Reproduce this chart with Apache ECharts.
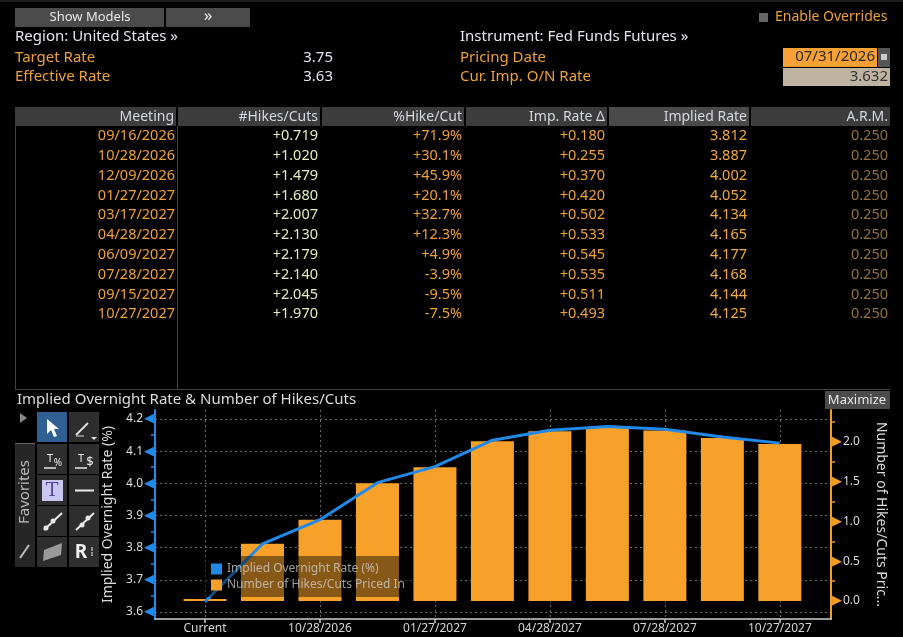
<!DOCTYPE html>
<html>
<head>
<meta charset="utf-8">
<title>WIRP - Implied Overnight Rate & Number of Hikes/Cuts</title>
<script src="https://cdn.jsdelivr.net/npm/echarts@6.0.0/dist/echarts.min.js"></script>
<style>
    html, body { margin: 0; padding: 0; background: #000; }
    #main { width: 903px; height: 637px; }
</style>
</head>
<body>
<div id="main"></div>
<script>
// header values
var targetRate = 3.75
var effectiveRate = 3.63
var pricingDate = '07/31/2026'
var curImpRate = 3.632

// meeting table
var meetings = ['09/16/2026', '10/28/2026', '12/09/2026', '01/27/2027', '03/17/2027',
    '04/28/2027', '06/09/2027', '07/28/2027', '09/15/2027', '10/27/2027']
var hikesCuts = [0.719, 1.020, 1.479, 1.680, 2.007, 2.130, 2.179, 2.140, 2.045, 1.970]
var pctHikeCut = [71.9, 30.1, 45.9, 20.1, 32.7, 12.3, 4.9, -3.9, -9.5, -7.5]
var impRateDelta = [0.180, 0.255, 0.370, 0.420, 0.502, 0.533, 0.545, 0.535, 0.511, 0.493]
var impliedRate = [3.812, 3.887, 4.002, 4.052, 4.134, 4.165, 4.177, 4.168, 4.144, 4.125]
var arm = [0.250, 0.250, 0.250, 0.250, 0.250, 0.250, 0.250, 0.250, 0.250, 0.250]

// chart
var categories = ['Current'].concat(meetings)
var rateSeries = [curImpRate].concat(impliedRate)
var hikesSeries = [0].concat(hikesCuts)
var xTicks = [0, 2, 4, 6, 8, 10]
var leftTicks = [3.6, 3.7, 3.8, 3.9, 4.0, 4.1, 4.2]
var leftMinor = [3.65, 3.75, 3.85, 3.95, 4.05, 4.15]
var rightTicks = [0, 0.5, 1.0, 1.5, 2.0]
var rightMinor = [0.25, 0.75, 1.25, 1.75, 2.25]

var FONT = '"Noto Sans", sans-serif'
var ORANGE = '#f0a232'
var WHITE = '#e2e6ee'
var BLUE = '#2189e8'
var BAR = '#f7a12b'

function txt(x, y, s, color, align, size, extra) {
    var el = {
        type: 'text', x: x, y: y, silent: true,
        style: {
            text: s, fill: color, align: align || 'left', verticalAlign: 'middle',
            font: (size || 14) + 'px ' + FONT
        }
    }
    if (extra) { for (var k in extra) el[k] = extra[k] }
    return el
}

function box(x, y, w, h, fill) {
    return { type: 'rect', silent: true, shape: { x: x, y: y, width: w, height: h }, style: { fill: fill } }
}

function line(x1, y1, x2, y2, color, w) {
    return { type: 'line', silent: true, shape: { x1: x1, y1: y1, x2: x2, y2: y2 }, style: { stroke: color, lineWidth: w || 1 } }
}

function signed(v, d) {
    return (v >= 0 ? '+' : '') + v.toFixed(d)
}

var g = []

// top controls
g.push(box(0, 0, 903, 2, '#1c1c1c'))
g.push(box(15, 8, 149, 19, '#4b4b4b'))
g.push(txt(90, 17, 'Show Models', '#e8e8e8', 'center', 13))
g.push(box(166, 8, 84, 19, '#4b4b4b'))
g.push(txt(208, 16, '»', '#e8e8e8', 'center', 17))
g.push(box(759, 13, 9, 9, '#666'))
g.push(txt(775, 17, 'Enable Overrides', ORANGE, 'left', 14))

g.push(txt(15, 37, 'Region: United States »', WHITE, 'left', 15))
g.push(txt(15, 58, 'Target Rate', ORANGE, 'left', 15))
g.push(txt(333, 58, targetRate.toFixed(2), WHITE, 'right', 15))
g.push(txt(15, 77, 'Effective Rate', ORANGE, 'left', 15))
g.push(txt(333, 77, effectiveRate.toFixed(2), WHITE, 'right', 15))

g.push(txt(460, 37, 'Instrument: Fed Funds Futures »', WHITE, 'left', 15))
g.push(txt(460, 58, 'Pricing Date', ORANGE, 'left', 15))
g.push(txt(460, 77, 'Cur. Imp. O/N Rate', ORANGE, 'left', 15))
g.push(box(783, 48, 94, 19, '#f7a033'))
g.push(txt(875, 57, pricingDate, '#2a2a2a', 'right', 15))
g.push(box(878, 48, 12, 19, '#555'))
g.push(box(881, 54, 6, 6, '#ccc'))
g.push(box(783, 68, 107, 18, '#bfb3a2'))
g.push(txt(888, 77, curImpRate.toFixed(3), '#333', 'right', 15))

// table header
var colLeft = [15, 178, 322, 466, 609, 751]
var colRight = [176, 320, 464, 607, 749, 890]
var headers = ['Meeting', '#Hikes/Cuts', '%Hike/Cut', 'Imp. Rate Δ', 'Implied Rate', 'A.R.M.']
headers.forEach(function (h, i) {
    g.push(box(colLeft[i], 107, colRight[i] - colLeft[i], 19, i == 4 ? '#4a4a4a' : '#3c3c3c'))
    g.push(txt(colRight[i] - 2, 117, h, '#d6d8e2', 'right'))
})

// table body
g.push(line(15.5, 126, 15.5, 389, '#444'))
g.push(line(177.5, 126, 177.5, 389, '#444'))
g.push(line(15, 389.5, 890, 389.5, '#444'))
meetings.forEach(function (m, i) {
    var y = 136 + i * 19.8
    g.push(txt(175, y, m, ORANGE, 'right', 14.5))
    g.push(txt(318, y, signed(hikesCuts[i], 3), '#e8eebb', 'right', 14.5))
    g.push(txt(462, y, signed(pctHikeCut[i], 1) + '%', ORANGE, 'right', 14.5))
    g.push(txt(605, y, signed(impRateDelta[i], 3), ORANGE, 'right', 14.5))
    g.push(txt(747, y, impliedRate[i].toFixed(3), '#f4ab3c', 'right', 14.5))
    g.push(txt(888, y, arm[i].toFixed(3), '#94703c', 'right', 14.5))
})

// chart title bar
g.push(txt(17, 400, 'Implied Overnight Rate & Number of Hikes/Cuts', '#dcdcdc', 'left', 15))
g.push(box(825, 391, 65, 18, '#4a4a4a'))
g.push(txt(857, 400, 'Maximize', '#e8e8e8', 'center', 13))

// annotation toolbar
g.push({ type: 'polygon', silent: true, shape: { points: [[20, 413], [27, 418], [20, 423]] }, style: { fill: '#888' } })
g.push(box(15, 443, 20, 124, '#262626'))
g.push(line(15, 443.5, 35, 443.5, '#666'))
g.push(txt(25, 492, 'Favorites', '#bdbdbd', 'center', 15, { rotation: Math.PI / 2 }))
g.push(line(20, 558, 29, 545, '#bdbdbd', 2))
var bx = [37, 69], by = [412, 444, 475, 506, 537]
by.forEach(function (y, r) {
    bx.forEach(function (x, c) {
        g.push(box(x, y, 30, 30, (r == 0 && c == 0) ? '#2f5f93' : '#2e2e2e'))
    })
})
g.push({ type: 'polygon', silent: true, shape: { points: [[47, 419], [47, 434], [51, 430], [54, 437], [57, 436], [54, 429], [59, 429]] }, style: { fill: '#fff' } })
g.push(line(76, 435, 88, 423, '#ddd', 2))
g.push(line(76, 436, 84, 436, '#ddd', 1))
g.push({ type: 'polygon', silent: true, shape: { points: [[91, 437], [97, 437], [94, 440]] }, style: { fill: '#ddd' } })
g.push(txt(50, 459, 'T', '#e8e8e8', 'center', 11))
g.push(txt(58, 463, '%', '#e8e8e8', 'center', 10))
g.push(line(44, 468, 56, 468, '#e8e8e8', 1.5))
g.push(txt(81, 459, 'T', '#e8e8e8', 'center', 11))
g.push(txt(90, 462, '$', '#e8e8e8', 'center', 13))
g.push(line(75, 468, 87, 468, '#e8e8e8', 1.5))
g.push(box(42, 480, 21, 21, '#c9c6f2'))
g.push({ type: 'text', x: 52, y: 491, silent: true, style: { text: 'T', fill: '#4c4c9a', align: 'center', verticalAlign: 'middle', font: '19px "DejaVu Serif"' } })
g.push(line(75, 490.5, 94, 490.5, '#e8e8e8', 2))
g.push(line(44, 530, 62, 513, '#e8e8e8', 2))
g.push({ type: 'circle', silent: true, shape: { cx: 46, cy: 528, r: 2.5 }, style: { fill: '#e8e8e8' } })
g.push({ type: 'circle', silent: true, shape: { cx: 53, cy: 521, r: 2.5 }, style: { fill: '#e8e8e8' } })
g.push(line(76, 530, 94, 513, '#e8e8e8', 2))
g.push({ type: 'circle', silent: true, shape: { cx: 82, cy: 525, r: 2.5 }, style: { fill: '#e8e8e8' } })
g.push({ type: 'circle', silent: true, shape: { cx: 88, cy: 518, r: 2.5 }, style: { fill: '#e8e8e8' } })
g.push({ type: 'polygon', silent: true, shape: { points: [[43, 561], [44, 550], [62, 543], [61, 555]] }, style: { fill: '#9a9a9a' } })
g.push({ type: 'text', x: 81, y: 553, silent: true, style: { text: 'R', fill: '#f0f0f0', align: 'center', verticalAlign: 'middle', font: 'bold 19px ' + FONT } })
g.push(txt(92, 552, '⁞', '#cfcfcf', 'center', 13))

var chart = echarts.init(document.getElementById('main'))

var dotted = { color: '#6a6a6a', type: [2, 3], width: 1 }

var option = {
    backgroundColor: '#000',
    animation: false,
    textStyle: { fontFamily: FONT },
    graphic: g,
    grid: { left: 155, right: 72, top: 410, bottom: 18 },
    legend: {
        data: ['Implied Overnight Rate (%)', 'Number of Hikes/Cuts Priced In'],
        orient: 'vertical',
        left: 203,
        top: 556,
        icon: 'rect',
        itemWidth: 11,
        itemHeight: 11,
        itemGap: 4,
        padding: [7, 8, 6, 8],
        backgroundColor: 'rgba(0,0,0,0.45)',
        selectedMode: false,
        textStyle: { color: 'rgba(215,215,215,0.72)', fontSize: 12 }
    },
    xAxis: {
        type: 'value',
        min: -0.87,
        max: 10.89,
        axisLine: { onZero: false, lineStyle: { color: '#cfcfcf', width: 1.5 } },
        axisTick: { customValues: xTicks, length: 4, lineStyle: { color: '#cfcfcf', width: 1.5 } },
        axisLabel: {
            customValues: xTicks, color: '#d6d6d6', fontSize: 12, margin: 4,
            formatter: function (v) { return categories[v] }
        },
        splitLine: { show: true, lineStyle: dotted }
    },
    yAxis: [
        {
            type: 'value', position: 'left', min: 3.578, max: 4.228,
            name: 'Implied Overnight Rate (%)', nameLocation: 'middle', nameGap: 40,
            nameTextStyle: { color: '#dcdcdc', fontSize: 14 },
            axisLine: { show: true, onZero: false, lineStyle: { color: BLUE, width: 2 } },
            axisTick: { show: false, customValues: leftTicks },
            axisLabel: {
                customValues: leftTicks, margin: 1,
                formatter: function (v) { return '{v|' + v.toFixed(1) + '}{t|◀}' },
                rich: {
                    v: { color: '#dcdcdc', fontSize: 12, padding: [0, 1, 0, 0] },
                    t: { color: BLUE, fontSize: 13, fontFamily: 'DejaVu Sans' }
                }
            },
            splitLine: { show: true, lineStyle: dotted }
        },
        {
            type: 'value', position: 'right', min: -0.226, max: 2.398,
            name: 'Number of Hikes/Cuts Pric...', nameLocation: 'middle', nameGap: 43, nameRotate: -90,
            nameTextStyle: { color: '#dcdcdc', fontSize: 14 },
            axisLine: { show: true, onZero: false, lineStyle: { color: '#f39c22', width: 2 } },
            axisTick: { show: false, customValues: rightTicks },
            axisLabel: {
                customValues: rightTicks, margin: 1,
                formatter: function (v) { return '{t|▶}{v|' + v.toFixed(1) + '}' },
                rich: {
                    v: { color: '#dcdcdc', fontSize: 12, padding: [0, 0, 0, 1] },
                    t: { color: '#f39c22', fontSize: 13, fontFamily: 'DejaVu Sans' }
                }
            },
            splitLine: { show: false }
        },
        {
            type: 'value', position: 'left', min: 3.578, max: 4.228,
            axisLine: { show: false, onZero: false },
            axisLabel: { show: false },
            splitLine: { show: false },
            axisTick: { show: true, customValues: leftMinor, length: 4, lineStyle: { color: BLUE, width: 1.5 } }
        },
        {
            type: 'value', position: 'right', min: -0.226, max: 2.398,
            axisLine: { show: false, onZero: false },
            axisLabel: { show: false },
            splitLine: { show: false },
            axisTick: { show: true, customValues: rightMinor, length: 4, lineStyle: { color: '#f39c22', width: 1.5 } }
        }
    ],
    series: [
        {
            name: 'Number of Hikes/Cuts Priced In',
            type: 'bar',
            yAxisIndex: 1,
            barWidth: 43,
            barMinHeight: 2,
            itemStyle: { color: BAR },
            data: hikesSeries.map(function (v, i) { return [i, v] })
        },
        {
            name: 'Implied Overnight Rate (%)',
            type: 'line',
            yAxisIndex: 0,
            symbol: 'none',
            z: 3,
            lineStyle: { color: BLUE, width: 3 },
            itemStyle: { color: BLUE },
            data: rateSeries.map(function (v, i) { return [i, v] })
        }
    ]
}
chart.setOption(option, true)
</script>
</body>
</html>
